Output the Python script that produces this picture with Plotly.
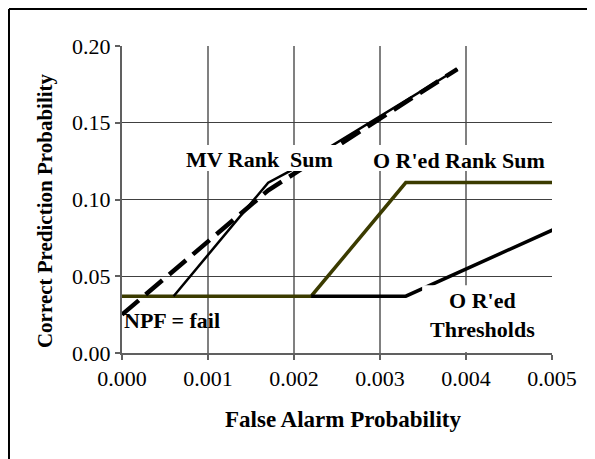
import plotly.graph_objects as go

# --- data ---
mv_x = [0.0006, 0.0017, 0.0020, 0.0039]
mv_y = [0.037, 0.111, 0.120, 0.185]

npf_x = [0.0, 0.0017, 0.0039]
npf_y = [0.025, 0.106, 0.185]

ored_rank_x = [0.0, 0.0022, 0.0033, 0.00506]
ored_rank_y = [0.037, 0.037, 0.111, 0.111]

ored_thr_x = [0.0022, 0.0033, 0.00506]
ored_thr_y = [0.037, 0.037, 0.0815]

x_ticks = [0.000, 0.001, 0.002, 0.003, 0.004, 0.005]
y_ticks = [0.00, 0.05, 0.10, 0.15, 0.20]

labels = {
    "mv": "MV Rank  Sum",
    "ored_rank": "O R'ed Rank Sum",
    "npf": "NPF = fail",
    "ored_thr": "O R'ed<br>Thresholds",
}
x_title = "False Alarm Probability"
y_title = "Correct Prediction Probability"

FONT = "Liberation Serif, Times New Roman, serif"

fig = go.Figure()
fig.add_trace(go.Scatter(x=ored_rank_x, y=ored_rank_y, mode="lines",
                         line=dict(color="#3b3b00", width=3.5), showlegend=False))
fig.add_trace(go.Scatter(x=ored_thr_x, y=ored_thr_y, mode="lines",
                         line=dict(color="black", width=3.5), showlegend=False))
fig.add_trace(go.Scatter(x=mv_x, y=mv_y, mode="lines",
                         line=dict(color="black", width=2.5), showlegend=False))
fig.add_trace(go.Scatter(x=npf_x, y=npf_y, mode="lines",
                         line=dict(color="black", width=4.5, dash="22px,9px"), showlegend=False))

# white label boxes (data coordinates)
fig.add_shape(type="rect", xref="x", yref="y", x0=0.00073, x1=0.0052, y0=0.1186, y1=0.1355,
              fillcolor="white", line=dict(width=0), layer="above")
fig.add_shape(type="rect", xref="x", yref="y", x0=0.00349, x1=0.00496, y0=0.0007, y1=0.0442,
              fillcolor="white", line=dict(width=0), layer="above")

# outer frame (left and top only visible)
fig.add_shape(type="line", xref="paper", yref="paper", x0=-0.2628, x1=-0.2628, y0=-0.5, y1=1.1205,
              line=dict(color="black", width=2))
fig.add_shape(type="line", xref="paper", yref="paper", x0=-0.2628, x1=1.3, y0=1.1205, y1=1.1205,
              line=dict(color="black", width=2))

lab_font = dict(family=FONT, size=22, color="black")
common = dict(showarrow=False, xanchor="center", yanchor="middle")
fig.add_annotation(x=0.0016, y=0.126, text="<b>" + labels["mv"] + "</b>", font=lab_font, **common)
fig.add_annotation(x=0.00392, y=0.1257, text="<b>" + labels["ored_rank"] + "</b>", font=lab_font, **common)
fig.add_annotation(x=0.000587, y=0.0215, text="<b>" + labels["npf"] + "</b>", font=lab_font, **common)
fig.add_annotation(x=0.00419, y=0.0245, text="<b>" + labels["ored_thr"] + "</b>", font=lab_font, **common)

# axis titles
fig.add_annotation(xref="paper", yref="paper", x=0.515, y=-0.218, text="<b>" + x_title + "</b>",
                   font=dict(family=FONT, size=23, color="black"), **common)
fig.add_annotation(xref="paper", yref="paper", x=-0.179, y=0.4625, text="<b>" + y_title + "</b>",
                   textangle=-90, font=dict(family=FONT, size=21, color="black"), **common)

fig.update_layout(
    width=595, height=459,
    margin=dict(l=114, r=51, t=38, b=114, autoexpand=False),
    paper_bgcolor="white", plot_bgcolor="white",
    font=dict(family=FONT, color="black"),
    xaxis=dict(range=[0, 0.005], tickvals=x_ticks, ticktext=[f"{v:.3f}" for v in x_ticks],
               showgrid=True, gridcolor="#808080", gridwidth=1.5,
               showline=True, linecolor="#606060", linewidth=2,
               ticks="outside", ticklen=5, tickcolor="#606060", tickwidth=2,
               tickfont=dict(family=FONT, size=22), zeroline=False, automargin=False),
    yaxis=dict(range=[0, 0.2], tickvals=y_ticks, ticktext=[f"{v:.2f}" for v in y_ticks],
               showgrid=True, gridcolor="#404040", gridwidth=1,
               showline=True, linecolor="#606060", linewidth=2,
               ticks="outside", ticklen=5, tickcolor="#606060", tickwidth=2,
               tickfont=dict(family=FONT, size=22), zeroline=False, automargin=False),
)

fig.write_html("out.html")
